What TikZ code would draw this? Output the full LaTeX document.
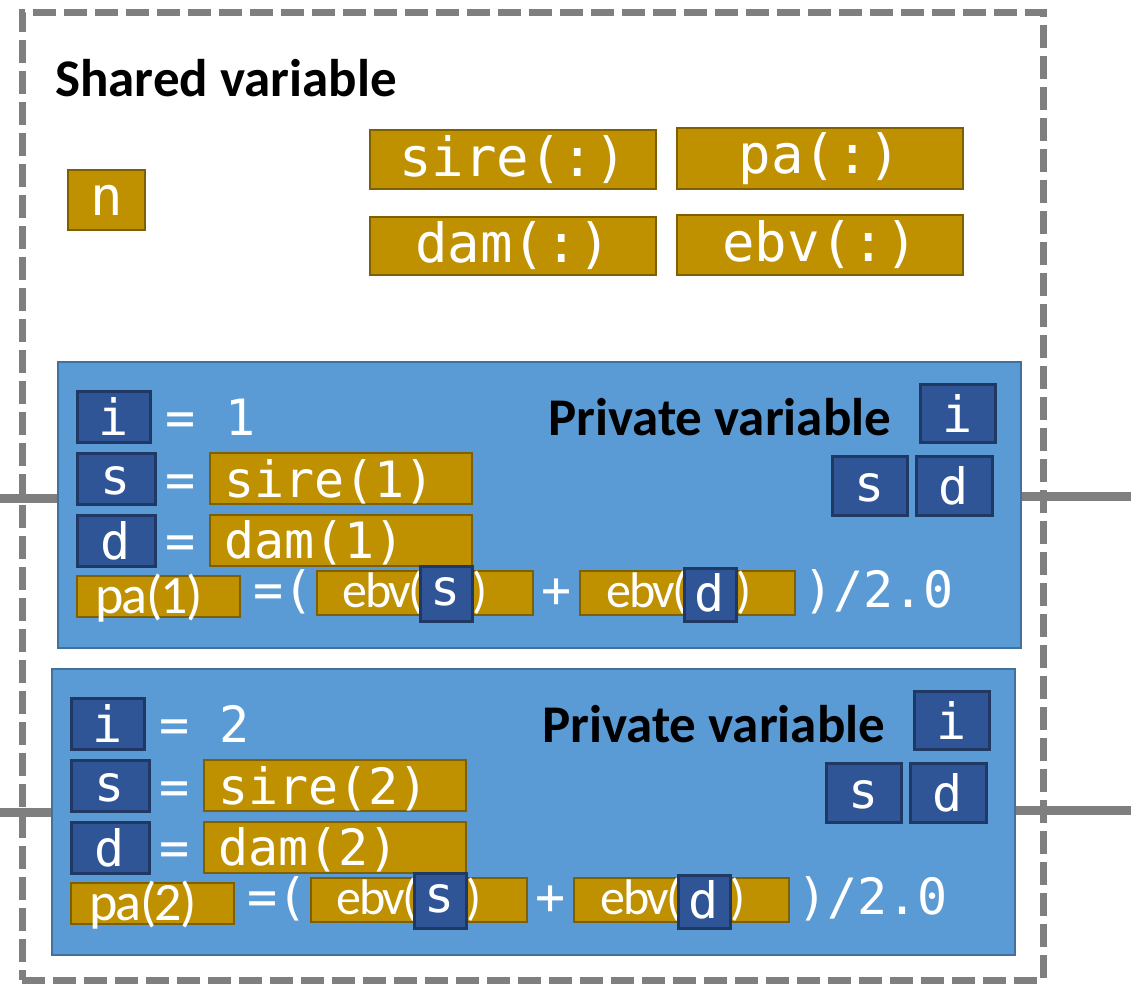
\documentclass[tikz,border=0pt]{standalone}
\usepackage{fontspec}
\setmainfont{Carlito}
\newfontfamily\monof{DejaVu Sans Mono}
\newfontfamily\calf{Carlito}
\newfontfamily\calt{Carlito}[LetterSpace=-5]
\newfontfamily\calp{Carlito}[LetterSpace=-3]
\usetikzlibrary{fit}
\definecolor{gold}{HTML}{BF9000}
\definecolor{goldb}{HTML}{7F6000}
\definecolor{navy}{HTML}{2F5597}
\definecolor{navyb}{HTML}{203864}
\definecolor{panelf}{HTML}{5B9BD5}
\definecolor{panelb}{HTML}{41719C}
\definecolor{dgray}{HTML}{7F7F7F}
\begin{document}
\begin{tikzpicture}[x=1pt,y=-1pt,
  goldbox/.style={draw=goldb, fill=gold, line width=2.5pt, inner sep=0pt},
  navybox/.style={draw=navyb, fill=navy, line width=3pt, inner sep=0pt},
  panel/.style={draw=panelb, fill=panelf, line width=2.5pt, inner sep=0pt},
  big/.style={text=white, inner sep=0pt, font=\fontsize{54}{54}\monof},
  mono/.style={text=white, inner sep=0pt, font=\fontsize{50}{50}\monof},
  cal/.style={text=white, inner sep=0pt, font=\fontsize{50}{50}\calt},
  calpa/.style={text=white, inner sep=0pt, font=\fontsize{54}{54}\calp},
  title/.style={text=black, inner sep=0pt, font=\fontsize{53}{53}\calf\bfseries},
  conn/.style={draw=dgray, line width=9pt},
  sharedbox/.style={draw=dgray, line width=7pt, dash pattern=on 23pt off 8pt, inner sep=0pt}
]
\useasboundingbox (0,0) rectangle (1131,986);
\node[sharedbox, fit={(22,12) (1043,980)}] (sh) {};
\node[title, anchor=base west] (st) at (55,96) {Shared variable};
\node[goldbox, fit={(68,170) (145,230)}] (n) {};
\node[big] (nt) at (n.center) {n};
\node[goldbox, fit={(370,130) (656,189)}] (sire) {};
\node[big] (siret) at (sire.center) {sire(:)};
\node[goldbox, fit={(677,128) (963,189)}] (pa) {};
\node[big] (pat) at (pa.center) {pa(:)};
\node[goldbox, fit={(370,217) (656,275)}] (dam) {};
\node[big] (damt) at (dam.center) {dam(:)};
\node[goldbox, fit={(677,215) (963,275)}] (ebv) {};
\node[big] (ebvt) at (ebv.center) {ebv(:)};
\foreach \k/\dx/\dy in {1/0/0,2/-6/307}{
\begin{scope}[shift={(\dx,\dy)}]
\node[panel, fit={(58,362) (1021,648)}] (p\k) {};
\node[navybox, fit={(77,391) (150,442)}] (i\k) {};
\node[mono] (it\k) at (i\k.center) {i};
\node[mono, anchor=base west] (ie\k) at (165,435) {= \k};
\node[navybox, fit={(77,453) (155,504)}] (s\k) {};
\node[mono] (st\k) at ([yshift=-2pt]s\k.center) {s};
\node[mono, anchor=base west] (se\k) at (165,497) {=};
\node[goldbox, fit={(210,453) (472,504)}] (sire\k) {};
\node[mono, anchor=base west] (siret\k) at (224,497) {sire(\k)};
\node[navybox, fit={(77,515) (155,566)}] (d\k) {};
\node[mono] (dt\k) at (d\k.center) {d};
\node[mono, anchor=base west] (de\k) at (165,558) {=};
\node[goldbox, fit={(210,515) (472,566)}] (dam\k) {};
\node[mono, anchor=base west] (damt\k) at (224,558) {dam(\k)};
\node[goldbox, fit={(77,576) (240,617)}] (pa\k) {};
\node[calpa, anchor=base west] (pat\k) at (95,613) {pa(\k)};
\node[mono, anchor=base west] (eq\k) at (253,607) {=(};
\node[goldbox, fit={(317,571) (533,615)}] (es\k) {};
\node[cal, anchor=base east] (est\k) at (424,607) {ebv(};
\node[navybox, fit={(420,566) (472,621)}] (esi\k) {};
\node[mono] (esit\k) at ([yshift=2pt]esi\k.center) {s};
\node[cal, anchor=base west] (esc\k) at (472,607) {)};
\node[mono, anchor=base west] (plus\k) at (541,607) {+};
\node[goldbox, fit={(580,571) (795,615)}] (ed\k) {};
\node[cal, anchor=base east] (edt\k) at (688,607) {ebv(};
\node[navybox, fit={(684,568) (736,621)}] (edi\k) {};
\node[mono] (edit\k) at ([yshift=2pt]edi\k.center) {d};
\node[cal, anchor=base west] (edc\k) at (736,607) {)};
\node[mono, anchor=base west] (half\k) at (803,607) {)/2.0};
\node[title, anchor=base west] (pt\k) at (548,435) {Private variable};
\node[navybox, fit={(920,384) (995,442)}] (pi\k) {};
\node[mono] (pit\k) at (pi\k.center) {i};
\node[navybox, fit={(832,456) (907,515)}] (ps\k) {};
\node[mono] (pst\k) at ([yshift=-2pt]ps\k.center) {s};
\node[navybox, fit={(916,456) (992,515)}] (pd\k) {};
\node[mono] (pdt\k) at (pd\k.center) {d};
\end{scope}}
\coordinate (L1) at (0,498);
\coordinate (R1) at (1131,496);
\coordinate (L2) at (0,812);
\coordinate (R2) at (1131,810);
\draw[conn] (L1) -- (L1 -| p1.west);
\draw[conn] (p1.east |- R1) -- (R1);
\draw[conn] (L2) -- (L2 -| p2.west);
\draw[conn] (p2.east |- R2) -- (R2);
\end{tikzpicture}
\end{document}
